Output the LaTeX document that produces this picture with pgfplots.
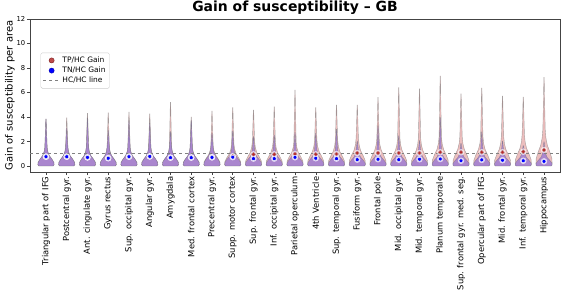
\documentclass[border=0pt]{standalone}
\usepackage{pgfplots}
\pgfplotsset{compat=1.18}
\usepackage{fontspec}
\setmainfont{DejaVu Sans}
\definecolor{tpfill}{HTML}{E6A8A8}
\definecolor{tnfill}{HTML}{8E6FD6}
\definecolor{tpdot}{HTML}{B22B2B}
\definecolor{spine}{HTML}{444444}
% violin outline: center, max, body scale, style
\newcommand\violin[4]{%
\addplot[#4,forget plot] coordinates {
({#1-0.34},0) ({#1-0.39},{0.1*#3}) ({#1-0.38},{0.3*#3}) ({#1-0.29},{0.55*#3})
({#1-0.16},{0.85*#3}) ({#1-0.091},{1.15*#3}) ({#1-0.057},{1.5*#3})
({#1-0.03},{0.5*(1.5*#3+#2)}) ({#1-0.008},{#2}) ({#1+0.008},{#2})
({#1+0.03},{0.5*(1.5*#3+#2)}) ({#1+0.057},{1.5*#3}) ({#1+0.091},{1.15*#3})
({#1+0.16},{0.85*#3}) ({#1+0.29},{0.55*#3}) ({#1+0.38},{0.3*#3})
({#1+0.39},{0.1*#3}) ({#1+0.34},0) ({#1-0.34},0)
};}
\pgfplotstableread{
x tpmax tpbody tnmax tnbody tpmed tnmed
0  3.84 1.0 3.84 1.0 0.76 0.76
1  3.94 1.0 3.10 1.0 0.76 0.76
2  4.30 1.0 3.90 1.0 0.70 0.70
3  4.35 1.0 2.90 1.0 0.65 0.63
4  4.40 1.0 3.70 1.0 0.76 0.76
5  4.25 1.0 3.50 1.0 0.78 0.78
6  5.20 1.0 2.80 1.0 0.68 0.68
7  4.00 1.0 3.70 1.0 0.70 0.68
8  4.49 1.1 2.67 1.0 0.72 0.70
9  4.76 1.2 2.86 0.95 0.80 0.72
10 4.57 1.3 2.40 0.9 0.95 0.60
11 4.84 1.3 2.53 0.9 0.95 0.60
12 6.20 1.3 2.75 0.9 0.98 0.71
13 4.76 1.4 2.67 0.9 0.95 0.63
14 4.98 1.4 3.00 0.9 0.98 0.60
15 4.98 1.5 2.04 0.85 1.06 0.52
16 5.60 1.5 3.27 0.85 1.06 0.55
17 6.40 1.5 2.47 0.85 1.06 0.52
18 6.30 1.5 2.07 0.85 1.06 0.55
19 7.35 1.6 3.95 0.85 1.12 0.57
20 5.90 1.6 1.85 0.8 1.12 0.43
21 6.37 1.6 2.78 0.85 1.12 0.50
22 5.70 1.6 2.04 0.8 1.12 0.47
23 5.63 1.7 1.66 0.8 1.17 0.43
24 7.24 2.0 1.98 0.8 1.31 0.38
}\datatable
\begin{document}
\begin{tikzpicture}
\useasboundingbox (-30bp,-122bp) rectangle (538bp,172bp);
\begin{axis}[
  scale only axis, width=530bp, height=153bp,
  at={(0,0)}, anchor=south west,
  xmin=-0.77, xmax=24.77, ymin=-0.49, ymax=12,
  xtick={0,...,24},
  xticklabels={Triangular part of IFG,Postcentral gyr.,Ant. cingulate gyr.,Gyrus rectus,Sup. occipital gyr.,Angular gyr.,Amygdala,Med. frontal cortex,Precentral gyr.,Supp. motor cortex,Sup. frontal gyr.,Inf. occipital gyr.,Parietal operculum,4th Ventricle,Sup. temporal gyr.,Fusiform gyr.,Frontal pole,Mid. occipital gyr.,Mid. temporal gyr.,Planum temporale,Sup. frontal gyr. med. seg.,Opercular part of IFG,Mid. frontal gyr.,Inf. temporal gyr.,Hippocampus},
  xticklabel style={rotate=90, anchor=east, font=\fontsize{8.4}{10}\selectfont, inner sep=1.5pt},
  ytick={0,2,...,12},
  yticklabel style={font=\fontsize{6.8}{8}\selectfont, inner sep=1.5pt},
  /pgf/number format/assume math mode=true,
  tick align=outside, major tick length=3bp,
  xtick pos=bottom, ytick pos=left,
  axis line style={spine, line width=0.6pt},
  tick style={spine, line width=0.5pt},
  title={\bfseries Gain of susceptibility -- GB},
  title style={font=\fontsize{14}{16}\selectfont, yshift=-5pt},
  ylabel={Gain of susceptibility per area},
  ylabel style={font=\fontsize{10}{12}\selectfont, yshift=-3pt},
  legend style={at={(0.02,0.78)}, anchor=north west, font=\fontsize{7.5}{9}\selectfont,
    draw=black!20, rounded corners=1.5pt, row sep=-1pt, inner sep=2pt},
  legend cell align=left,
]
\pgfplotsforeachungrouped \i in {0,...,24}{%
  \pgfplotstablegetelem{\i}{tpmax}\of\datatable \let\mx\pgfplotsretval
  \pgfplotstablegetelem{\i}{tpbody}\of\datatable \let\bd\pgfplotsretval
  \edef\temp{\noexpand\violin{\i}{\mx}{\bd}{fill=tpfill, fill opacity=0.75, draw=black!55, draw opacity=0.6, line width=0.4pt}}
  \temp
}
\pgfplotsforeachungrouped \i in {0,...,24}{%
  \pgfplotstablegetelem{\i}{tnmax}\of\datatable \let\mx\pgfplotsretval
  \pgfplotstablegetelem{\i}{tnbody}\of\datatable \let\bd\pgfplotsretval
  \edef\temp{\noexpand\violin{\i}{\mx}{\bd}{fill=tnfill, fill opacity=0.7, draw=black!55, draw opacity=0.6, line width=0.4pt}}
  \temp
}
\addplot[gray, dashed, line width=0.7pt, forget plot] coordinates {(-0.77,1) (24.77,1)};
\addplot[only marks, mark=*, mark size=3pt, white, opacity=0.6, forget plot] table[x=x, y=tpmed] {\datatable};
\addplot[only marks, mark=*, mark size=3pt, white, opacity=0.6, forget plot] table[x=x, y=tnmed] {\datatable};
\addplot[only marks, mark=*, mark size=1.9pt, fill=tpdot, draw=tpdot!60!white, line width=0.3pt, forget plot] table[x=x, y=tpmed] {\datatable};
\addplot[only marks, mark=*, mark size=2pt, fill=blue, draw=white, line width=0.4pt, forget plot] table[x=x, y=tnmed] {\datatable};
\addlegendimage{only marks, mark=*, mark size=2.6pt, fill=tpdot!85!white, draw=tpdot!70!black}
\addlegendentry{TP/HC Gain}
\addlegendimage{only marks, mark=*, mark size=2.6pt, fill=blue, draw=blue!70!black}
\addlegendentry{TN/HC Gain}
\addlegendimage{gray, dashed, line width=0.7pt}
\addlegendentry{HC/HC line}
\end{axis}
\end{tikzpicture}
\end{document}
